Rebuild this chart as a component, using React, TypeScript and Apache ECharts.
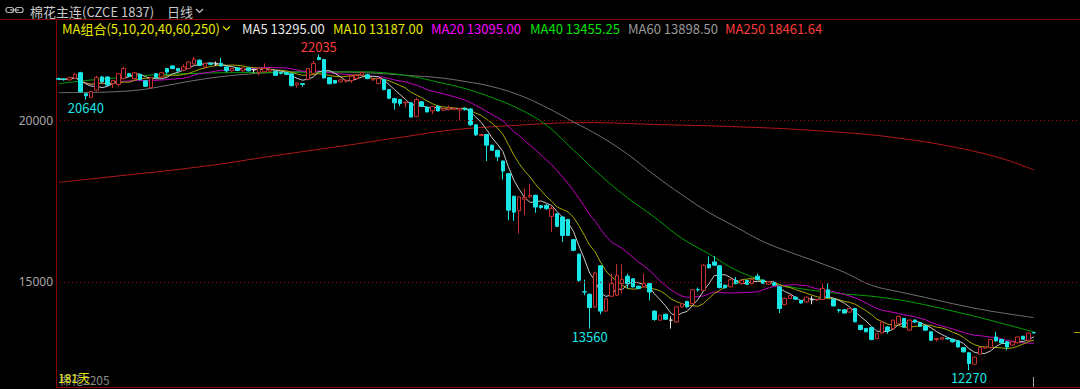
import React, { useEffect, useRef } from "react";
import * as echarts from "echarts";

// ---------- DATA ----------
const instrumentTitle = "棉花主连(CZCE 1837)";
const periodLabel = "日线";
const maComboLabel = "MA组合(5,10,20,40,60,250)";
const daysLabel = "181天";
const contractLabel = "棉花2205";

const dayCount = 181;
const padCount = 8;
const categories: string[] = Array.from({ length: dayCount + padCount }, (_, i) => String(i + 1));

// [open, close, low, high]
const ohlc: number[][] = [
  [21290, 21270, 21240, 21320], [21280, 21260, 21220, 21300], [21250, 21320, 21220, 21350], [21300, 21420, 21280, 21460],
  [21470, 20880, 20860, 21500], [20820, 20760, 20640, 20850], [20700, 20890, 20690, 20910], [20930, 21320, 20900, 21380],
  [21340, 21190, 21150, 21360], [21340, 21090, 21060, 21360], [21130, 21230, 21000, 21250], [21110, 21440, 21050, 21460],
  [21290, 21600, 21270, 21650], [21440, 21370, 21340, 21460], [21290, 21470, 21260, 21500], [21420, 21260, 21230, 21440],
  [21220, 21050, 21030, 21250], [21010, 21320, 20980, 21340], [21440, 21320, 21300, 21460], [21340, 21470, 21300, 21500],
  [21600, 21490, 21400, 21620], [21680, 21600, 21580, 21700], [21600, 21530, 21500, 21620], [21550, 21650, 21520, 21730],
  [21600, 21800, 21580, 21820], [21740, 21890, 21720, 21960], [21860, 21700, 21680, 21880], [21650, 21760, 21620, 21780],
  [21760, 21730, 21700, 21790], [21740, 21740, 21680, 21820], [21760, 21680, 21660, 21930], [21650, 21530, 21480, 21670],
  [21530, 21600, 21500, 21620], [21620, 21540, 21520, 21640], [21530, 21620, 21500, 21650], [21620, 21530, 21510, 21640],
  [21560, 21560, 21470, 21600], [21480, 21600, 21380, 21620], [21500, 21600, 21480, 21760], [21520, 21570, 21500, 21600],
  [21510, 21390, 21370, 21530], [21470, 21450, 21420, 21500], [21470, 21420, 21400, 21490], [21440, 21070, 21050, 21460],
  [21090, 21150, 21010, 21170], [21130, 21110, 21040, 21150], [21260, 21600, 21240, 21620], [21450, 21760, 21430, 21840],
  [21940, 21880, 21860, 22035], [21880, 21310, 21290, 21900], [21320, 21130, 21110, 21340], [21230, 21150, 21130, 21250],
  [21190, 21250, 21170, 21270], [21220, 21240, 21160, 21260], [21230, 21360, 21150, 21380], [21290, 21390, 21250, 21420],
  [21400, 21480, 21380, 21510], [21410, 21290, 21270, 21440], [21250, 21270, 21220, 21290], [21140, 21290, 21110, 21310],
  [21260, 20950, 20930, 21280], [20950, 20680, 20660, 20970], [20670, 20540, 20330, 20690], [20640, 20520, 20440, 20660],
  [20540, 20560, 20400, 20580], [20540, 20100, 20090, 20570], [20120, 20640, 20100, 20700], [20570, 20430, 20410, 20590],
  [20410, 20260, 20240, 20430], [20290, 20430, 20190, 20450], [20430, 20290, 20270, 20470], [20310, 20360, 20290, 20380],
  [20330, 20380, 20310, 20460], [20340, 20370, 20320, 20400], [20320, 20360, 20000, 20390], [20370, 20330, 20300, 20390],
  [20350, 19860, 19830, 20380], [19860, 19550, 19510, 19880], [19530, 19560, 19500, 19580], [19560, 19230, 18740, 19580],
  [19230, 19070, 19050, 19250], [19070, 18870, 18740, 19090], [18740, 18430, 18170, 18760], [18350, 17220, 16910, 18370],
  [17650, 17160, 16890, 17670], [17200, 17630, 16500, 17650], [17560, 17610, 17060, 17900], [17630, 17680, 17600, 18040],
  [17680, 17320, 17140, 17700], [17360, 17300, 17260, 17380], [17370, 17270, 17230, 17400], [17030, 17270, 16550, 17370],
  [17110, 16720, 16700, 17130], [17010, 16440, 16240, 17030], [16930, 16440, 16420, 16950], [16310, 15980, 15950, 16330],
  [15860, 15050, 15000, 15880], [14700, 14690, 14590, 15070], [14620, 14210, 13560, 14650], [14230, 15280, 14190, 15310],
  [15500, 14100, 14000, 15510], [14100, 14480, 14080, 14500], [14560, 14950, 14540, 15260], [14590, 15200, 14570, 15550],
  [14950, 15080, 14640, 15550], [15180, 14950, 14800, 15260], [15100, 14850, 14830, 15120], [14870, 14800, 14780, 14890],
  [14850, 14950, 14830, 15260], [14950, 14690, 14430, 14970], [14100, 13840, 13800, 14120], [13820, 13970, 13800, 13990],
  [14000, 13850, 13830, 14020], [13820, 13820, 13560, 13940], [13760, 14230, 13740, 14250], [14230, 14330, 14200, 14350],
  [14400, 14230, 14210, 14420], [14330, 14760, 14310, 14780], [14770, 14760, 14700, 14830], [14740, 15520, 14720, 15550],
  [15540, 15440, 15420, 15790], [15620, 15520, 15500, 15800], [15500, 14830, 14800, 15520], [14900, 14820, 14800, 14920],
  [14850, 15070, 14830, 15100], [15050, 14950, 14930, 15150], [14950, 15050, 14930, 15070], [15050, 14930, 14910, 15070],
  [14950, 15080, 14930, 15100], [15180, 15070, 15050, 15260], [15060, 14960, 14940, 15080], [14930, 15010, 14910, 15030],
  [14990, 14900, 14880, 15010], [14850, 14180, 14040, 14870], [14300, 14490, 14280, 14510], [14490, 14580, 14470, 14600],
  [14530, 14470, 14450, 14550], [14430, 14350, 14330, 14450], [14380, 14530, 14360, 14550], [14450, 14450, 14310, 14560],
  [14440, 14460, 14420, 14480], [14460, 14800, 14440, 14950], [14760, 14520, 14500, 14960], [14460, 14260, 14240, 14480],
  [14140, 14120, 14050, 14170], [14140, 14040, 14020, 14160], [14070, 14180, 14050, 14200], [14180, 13770, 13750, 14200],
  [13660, 13530, 13510, 13680], [13560, 13460, 13440, 13580], [13590, 13220, 13200, 13610], [13250, 13400, 13230, 13420],
  [13420, 13760, 13400, 13800], [13610, 13490, 13400, 13630], [13560, 13820, 13540, 13840], [13710, 13940, 13690, 13960],
  [13870, 13610, 13590, 13890], [13510, 13820, 13490, 13840], [13820, 13760, 13740, 13850], [13740, 13630, 13610, 13760],
  [13640, 13510, 13490, 13660], [13460, 13200, 13180, 13480], [13220, 13250, 13160, 13270], [13230, 13280, 13210, 13300],
  [13260, 13240, 13220, 13280], [13230, 13150, 13130, 13250], [13180, 12990, 12970, 13200], [12970, 12840, 12820, 12990],
  [12810, 12480, 12270, 12830], [12460, 12680, 12440, 12700], [12770, 12970, 12750, 12990], [12960, 12990, 12940, 13010],
  [12970, 13220, 12950, 13240], [13300, 13180, 13150, 13460], [13220, 13120, 13100, 13240], [13150, 12990, 12890, 13170],
  [13050, 13150, 13030, 13170], [13120, 13300, 13100, 13320], [13320, 13230, 13210, 13340], [13200, 13420, 13180, 13440],
  [13440, 13430, 13400, 13460],
];

// long moving averages, one value every 5 trading days
const sampleStep = 5;
const ma40Samples = [
  21130, 21230, 21300, 21380, 21420, 21450, 21470, 21475, 21480, 21485, 21490, 21500, 21470, 21360, 21180, 20980,
  20700, 20350, 19850, 19080, 18300, 17600, 17000, 16350, 15870, 15370, 15050, 14850, 14720, 14630, 14560, 14450,
  14290, 14100, 13900, 13680, 13455,
];
const ma60Samples = [
  20855, 20860, 20880, 20940, 21080, 21230, 21350, 21430, 21480, 21500, 21500, 21480, 21440, 21380, 21320, 21200,
  21040, 20780, 20400, 19950, 19500, 18950, 18300, 17700, 17150, 16700, 16250, 15920, 15620, 15300, 14900, 14700,
  14520, 14330, 14160, 14020, 13898,
];
const ma250Samples = [
  18080, 18170, 18260, 18350, 18440, 18540, 18650, 18780, 18910, 19030, 19150, 19270, 19400, 19520, 19650, 19740,
  19800, 19850, 19900, 19925, 19925, 19900, 19870, 19850, 19830, 19800, 19770, 19730, 19680, 19620, 19550, 19450,
  19330, 19180, 19000, 18770, 18462,
];

const yTickLabels = [15000, 20000];
const gridLines = [20000, 15000];

const legendItems = [
  { name: "MA5", value: "13295.00", color: "#e6e6e6", x: 242 },
  { name: "MA10", value: "13187.00", color: "#e6e600", x: 333 },
  { name: "MA20", value: "13095.00", color: "#ff00ff", x: 431 },
  { name: "MA40", value: "13455.25", color: "#00e600", x: 530 },
  { name: "MA60", value: "13898.50", color: "#9a9a9a", x: 628 },
  { name: "MA250", value: "18461.64", color: "#ff3b3b", x: 725 },
];

const extremeMarks = [
  { day: 5, price: 20640, color: "#19e6e6", pos: "bottom" },
  { day: 48, price: 22035, color: "#ff3b3b", pos: "top" },
  { day: 98, price: 13560, color: "#19e6e6", pos: "bottom" },
  { day: 168, price: 12270, color: "#19e6e6", pos: "bottom" },
];

// ---------- HELPERS ----------
const closes = ohlc.map((d) => d[1]);
function movingAverage(period: number): number[] {
  return closes.map((_, i) => {
    const from = Math.max(0, i - period + 1);
    let s = 0;
    for (let k = from; k <= i; k++) s += closes[k];
    return +(s / (i - from + 1)).toFixed(2);
  });
}
function expandSamples(samples: number[]): (number | null)[] {
  const out: (number | null)[] = new Array(dayCount).fill(null);
  samples.forEach((v, k) => {
    out[k * sampleStep] = v;
  });
  return out;
}

const FONT = '"Noto Sans CJK SC", "Noto Sans", sans-serif';

function lineSeries(name: string, data: (number | null)[], color: string, smooth: number | boolean) {
  return {
    type: "line",
    name,
    data,
    symbol: "none",
    showSymbol: false,
    connectNulls: true,
    smooth,
    silent: true,
    z: 2,
    lineStyle: { color, width: 1 },
  };
}

export default function App() {
  const ref = useRef<HTMLDivElement>(null);
  useEffect(() => {
    if (!ref.current) return;
    const chart = echarts.init(ref.current, undefined, { renderer: "svg" });

    const graphic: any[] = [
      { type: "line", shape: { x1: 0, y1: 19.5, x2: 1080, y2: 19.5 }, style: { stroke: "#8b0000", lineWidth: 1 } },
      { type: "rect", shape: { x: 6, y: 7.5, width: 7.5, height: 5, r: 2 }, style: { fill: "none", stroke: "#b4b4b4", lineWidth: 1.2 } },
      { type: "rect", shape: { x: 15.5, y: 7.5, width: 7.5, height: 5, r: 2 }, style: { fill: "none", stroke: "#b4b4b4", lineWidth: 1.2 } },
      { type: "line", shape: { x1: 10, y1: 10, x2: 19, y2: 10 }, style: { stroke: "#b4b4b4", lineWidth: 1.2 } },
      { type: "text", x: 30, y: 11, style: { text: instrumentTitle, fill: "#c8c8c8", font: `13px ${FONT}`, textVerticalAlign: "middle", verticalAlign: "middle" } },
      { type: "text", x: 167, y: 11, style: { text: periodLabel, fill: "#c8c8c8", font: `13px ${FONT}`, textVerticalAlign: "middle", verticalAlign: "middle" } },
      { type: "polyline", shape: { points: [[196, 9], [199.5, 12.5], [203, 9]] }, style: { fill: "none", stroke: "#c8c8c8", lineWidth: 1.2 } },
      { type: "text", x: 62, y: 28, style: { text: maComboLabel, fill: "#e6e600", font: `13px ${FONT}`, textVerticalAlign: "middle", verticalAlign: "middle" } },
      { type: "polyline", shape: { points: [[223, 26.5], [226.5, 30], [230, 26.5]] }, style: { fill: "none", stroke: "#e6e600", lineWidth: 1.2 } },
      { type: "text", x: 59, y: 379, style: { text: contractLabel, fill: "#8a8a8a", font: `12px ${FONT}`, textVerticalAlign: "middle", verticalAlign: "middle" } },
      { type: "text", x: 58, y: 377, style: { text: daysLabel, fill: "#e6e600", font: `12px ${FONT}`, textVerticalAlign: "middle", verticalAlign: "middle" } },
      { type: "line", shape: { x1: 1074, y1: 332.5, x2: 1080, y2: 332.5 }, style: { stroke: "#b0a000", lineWidth: 1 } },
      { type: "line", shape: { x1: 1033.5, y1: 377, x2: 1033.5, y2: 387 }, style: { stroke: "#9a9a9a", lineWidth: 1 } },
    ];
    legendItems.forEach((it) => {
      graphic.push({
        type: "text",
        x: it.x,
        y: 28,
        style: { text: `${it.name} ${it.value}`, fill: it.color, font: `13px ${FONT}`, textVerticalAlign: "middle", verticalAlign: "middle" },
      });
    });

    const option: any = {
      animation: false,
      backgroundColor: "#000000",
      grid: { left: 56, right: 0, top: 19, bottom: 2 },
      xAxis: {
        type: "category",
        data: categories,
        boundaryGap: true,
        axisLine: { show: true, lineStyle: { color: "#8b0000", width: 1 } },
        axisTick: { show: false },
        axisLabel: { show: false },
        splitLine: { show: false },
      },
      yAxis: {
        type: "value",
        min: 11753,
        max: 23132,
        axisLine: { show: true, lineStyle: { color: "#8b0000", width: 1 } },
        axisTick: { show: false },
        splitLine: { show: false },
        axisLabel: {
          show: true,
          customValues: yTickLabels,
          formatter: (v: number) => String(v),
          color: "#a8a8a8",
          fontSize: 12,
          fontFamily: "Noto Sans",
          margin: 3,
        },
      },
      graphic,
      series: [
        lineSeries("MA250", expandSamples(ma250Samples), "#b01818", 0.4),
        lineSeries("MA60", expandSamples(ma60Samples), "#707070", 0.4),
        lineSeries("MA40", expandSamples(ma40Samples), "#00a000", 0.4),
        lineSeries("MA20", movingAverage(20), "#c000c0", false),
        lineSeries("MA10", movingAverage(10), "#a8a800", false),
        lineSeries("MA5", movingAverage(5), "#c8c8c8", false),
        {
          type: "candlestick",
          name: "K",
          data: ohlc,
          barWidth: 4,
          z: 3,
          silent: true,
          itemStyle: {
            color: "#000000",
            borderColor: "#c83030",
            color0: "#19e6e6",
            borderColor0: "#19e6e6",
            borderColorDoji: "#e0e0e0",
            borderWidth: 1,
          },
          markLine: {
            silent: true,
            symbol: ["none", "none"],
            label: { show: false },
            lineStyle: { type: [1, 3], color: "#a00000", width: 1 },
            data: gridLines.map((v) => ({ yAxis: v })),
          },
          markPoint: {
            silent: true,
            symbol: "circle",
            symbolSize: 0,
            itemStyle: { color: "transparent" },
            data: extremeMarks.map((m) => ({
              coord: [categories[m.day], m.price],
              value: m.price,
              label: {
                show: true,
                position: m.pos,
                distance: 1,
                color: m.color,
                fontSize: 13,
                fontFamily: FONT,
                formatter: String(m.price),
              },
            })),
          },
        },
      ],
    };
    chart.setOption(option);
    return () => chart.dispose();
  }, []);

  return (
    <div
      ref={ref}
      style={{ position: "fixed", left: 0, top: 0, width: 1080, height: 389, background: "#000" }}
    />
  );
}
